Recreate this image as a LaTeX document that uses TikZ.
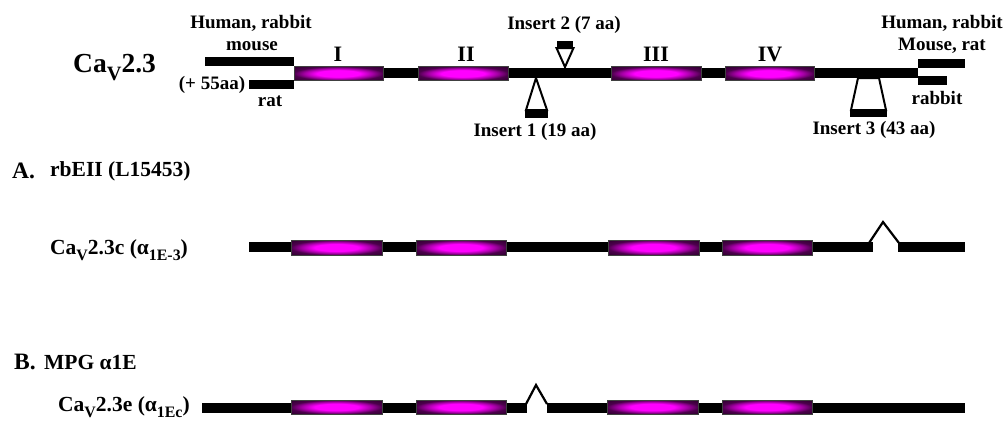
\documentclass[tikz,border=0pt]{standalone}
\usepackage{fontspec}
\setmainfont{Liberation Serif}
\usepackage{graphicx}
% lowered, reduced subscript in the current font
\newcommand\lowr[1]{\raisebox{-0.3em}{\scalebox{0.74}{#1}}}
% transmembrane domain: bright centre fading to dark ends
\pgfdeclareradialshading{tmseg}{\pgfpoint{0bp}{0bp}}{%
  color(0bp)=(magenta); color(12bp)=(magenta); color(19bp)=(magenta!65!black);
  color(25bp)=(magenta!30!black); color(50bp)=(black)}
\begin{document}
\begin{tikzpicture}[x=1pt,y=-1pt,
  txt/.style={font=\bfseries\fontsize{19}{19}\selectfont, inner sep=0pt, anchor=base},
  row/.style={font=\bfseries\fontsize{21.5}{21.5}\selectfont, inner sep=0pt, anchor=base west},
  big/.style={font=\bfseries\fontsize{23.5}{23.5}\selectfont, inner sep=0pt, anchor=base west},
  roman/.style={font=\bfseries\fontsize{22}{22}\selectfont, inner sep=0pt, anchor=base},
  tm/.style={shading=tmseg, draw=black!75, line width=0.7pt},
  bar/.style={fill=black},
  ins/.style={draw=black, line width=2pt, fill=white, line join=miter},
  hinge/.style={draw=black, line width=2.2pt, line join=miter}]
\useasboundingbox[fill=white] (0,0) rectangle (1006,424);

% ---------------- full-length Cav2.3 ----------------
\node[font=\bfseries\fontsize{27.5}{27.5}\selectfont, inner sep=0pt, anchor=base west] (title) at (73,72) {Ca\lowr{V}2.3};

% backbone and N-terminal variants
\fill[bar] (294,68) rectangle (918,78);
\fill[bar] (205,57) rectangle (294,66);
\fill[bar] (249,80) rectangle (294,89);
% C-terminal variants
\fill[bar] (918,59) rectangle (965,68);
\fill[bar] (918,76) rectangle (947,85);

% domains
\path[tm] (294,66.5) rectangle (383,80.5);
\path[tm] (418,66.5) rectangle (508,80.5);
\path[tm] (611,66.5) rectangle (701,80.5);
\path[tm] (725,66.5) rectangle (814,80.5);
\node[roman] (dI)   at (338,61) {I};
\node[roman] (dII)  at (466,61) {II};
\node[roman] (dIII) at (656,61) {III};
\node[roman] (dIV)  at (770,61) {IV};

% insert 1 (below)
\path[ins] (536,78) -- (547,110) -- (526,110) -- cycle;
\fill[bar] (525,110) rectangle (548,118);
% insert 2 (above)
\path[ins] (565,67) -- (556.5,48) -- (573.5,48) -- cycle;
\fill[bar] (557,41) rectangle (573,48.5);
% insert 3 (below)
\path[ins] (858,78) -- (879,78) -- (886,110) -- (851,110) -- cycle;
\fill[bar] (850,110) rectangle (887,117);

% labels
\node[txt] (nhr)  at (251,28)  {Human, rabbit};
\node[txt] (nmo)  at (252,50)  {mouse};
\node[txt] (n55)  at (212,89)  {(+ 55aa)};
\node[txt] (nrat) at (270,106) {rat};
\node[txt] (ins2) at (564,29)  {Insert 2 (7 aa)};
\node[txt] (ins1) at (535,136) {Insert 1 (19 aa)};
\node[txt] (ins3) at (874,134) {Insert 3 (43 aa)};
\node[txt] (chr)  at (942,28)  {Human, rabbit};
\node[txt] (cmr)  at (942,50)  {Mouse, rat};
\node[txt] (crb)  at (937,104) {rabbit};

% ---------------- A ----------------
\node[big] (pA) at (12,178) {A.};
\node[row] (pAt) at (50,176) {rbEII (L15453)};
\node[row] (cA) at (50,254) {Ca\lowr{V}2.3c (α\lowr{1E-3})};
\fill[bar] (249,242) rectangle (873,252);
\fill[bar] (898,242) rectangle (965,252);
\draw[hinge] (869,243) -- (883,222) -- (899,243);
\path[tm] (291,240) rectangle (382,255);
\path[tm] (416,240) rectangle (506,255);
\path[tm] (608,240) rectangle (699,255);
\path[tm] (722,240) rectangle (812,255);

% ---------------- B ----------------
\node[big] (pB) at (14,369) {B.};
\node[row] (pBt) at (44,369) {MPG α1E};
\node[row] (cB) at (58,411) {Ca\lowr{V}2.3e (α\lowr{1Ec})};
\fill[bar] (202,403) rectangle (527,413);
\fill[bar] (547,403) rectangle (965,413);
\draw[hinge] (526,404) -- (536,385) -- (547,404);
\path[tm] (291,400) rectangle (382,414);
\path[tm] (416,400) rectangle (506,414);
\path[tm] (607,400) rectangle (698,414);
\path[tm] (722,400) rectangle (812,414);
\end{tikzpicture}
\end{document}
